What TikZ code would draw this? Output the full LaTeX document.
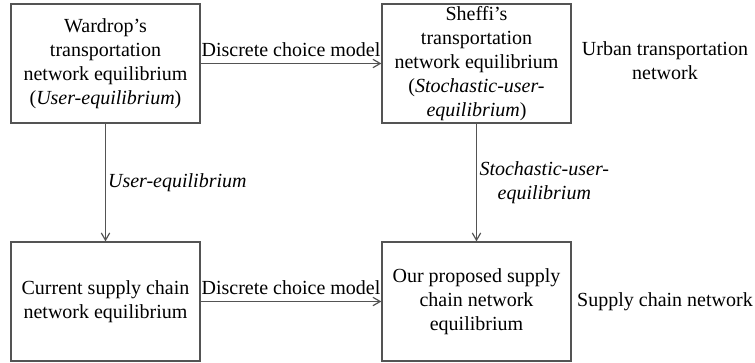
\documentclass[tikz,border=0pt]{standalone}
\usepackage{fontspec}
\setmainfont{Liberation Serif}[Ligatures=TeX]
\newfontfamily\timesfont{Liberation Serif}[Ligatures=TeX]
\usetikzlibrary{arrows}
\definecolor{linegray}{rgb}{0.33,0.33,0.33}

\begin{document}
\begin{tikzpicture}[x=0.5pt,y=-0.5pt,
  eqbox/.style={rectangle,draw=linegray,line width=0.6pt,minimum width=94.5pt,minimum height=59.5pt,inner sep=1pt,align=center,font=\timesfont\fontsize{10}{12}\selectfont},
  flow/.style={draw=linegray,line width=0.6pt,->,>=angle 60},
  txt/.style={font=\timesfont\fontsize{10}{12}\selectfont,align=center}]
  \useasboundingbox (0,0) rectangle (755,363);
  \node[eqbox] (wardrop) at (105.5,63.5) {Wardrop's\\transportation\\network equilibrium\\(\textit{User-equilibrium})};
  \node[eqbox] (sheffi) at (476.5,63.5) {Sheffi's\\transportation\\network equilibrium\\(\textit{Stochastic-user-}\\\textit{equilibrium})};
  \node[eqbox] (current) at (105.5,301.5) {Current supply chain\\network equilibrium};
  \node[eqbox] (proposed) at (476.5,301.5) {Our proposed supply\\chain network\\equilibrium};
    \node[txt] (urban) at (665,61) {Urban transportation\\network};
    \node[txt] (supply) at (665,302) {Supply chain network};
    \draw[flow] (wardrop) -- node[txt,above] (dcm1) {Discrete choice model} (sheffi);
    \draw[flow] (current) -- node[txt,above] (dcm2) {Discrete choice model} (proposed);
    \draw[flow] (wardrop) -- node[txt,right,inner sep=1pt] (ue) {\textit{User-equilibrium}} (current);
    \draw[flow] (sheffi) -- node[txt,right,inner sep=1.2pt] (sue) {\textit{Stochastic-user-}\\\textit{equilibrium}} (proposed);
\end{tikzpicture}
\end{document}
